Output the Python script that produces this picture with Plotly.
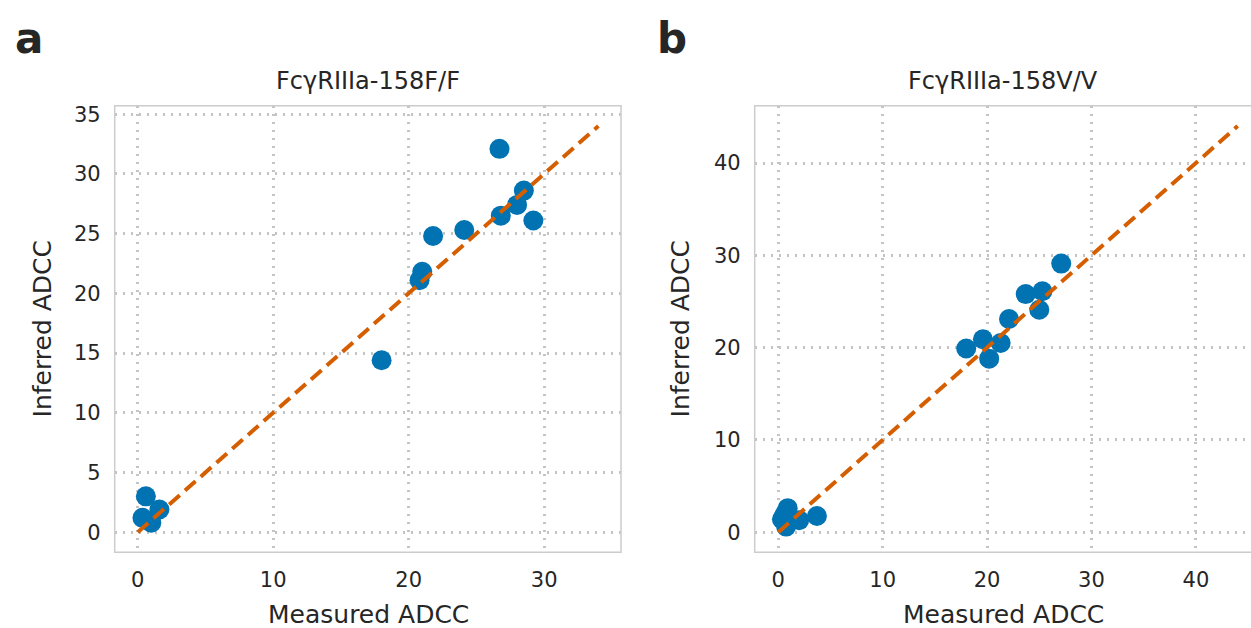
import plotly.graph_objects as go

# Panel a: FcγRIIIa-158F/F
a_measured = [26.7, 28.5, 28.0, 26.8, 29.2, 24.1, 21.8, 21.0, 20.8, 18.0, 0.6, 1.6, 0.35, 1.0]
a_inferred = [32.1, 28.6, 27.4, 26.5, 26.1, 25.3, 24.8, 21.8, 21.1, 14.4, 3.0, 1.9, 1.2, 0.8]
a_line = [0, 34]

# Panel b: FcγRIIIa-158V/V
b_measured = [27.1, 23.7, 25.3, 25.0, 22.1, 19.6, 21.3, 18.0, 20.2, 3.7, 0.9, 2.0, 0.35, 0.75, 0.6]
b_inferred = [29.1, 25.8, 26.1, 24.1, 23.1, 20.9, 20.5, 19.9, 18.8, 1.75, 2.6, 1.3, 1.4, 0.6, 1.9]
b_line = [0, 44]

a_ticks_x = [0, 10, 20, 30]
a_ticks_y = [0, 5, 10, 15, 20, 25, 30, 35]
b_ticks = [0, 10, 20, 30, 40]

BLUE = "#0173B2"
ORANGE = "#D55E00"
TXT = "#262626"
GRID = "#c4c4c4"
FONT = "DejaVu Sans"

W, H = 1251, 628

def px_x(p):
    return p / W

def px_y(p):
    return 1 - p / H

fig = go.Figure()

fig.add_trace(go.Scatter(x=a_measured, y=a_inferred, mode="markers",
                         marker=dict(color=BLUE, size=20, line=dict(width=0)),
                         xaxis="x", yaxis="y", showlegend=False))
fig.add_trace(go.Scatter(x=a_line, y=a_line, mode="lines",
                         line=dict(color=ORANGE, width=4, dash="14px,7px"),
                         xaxis="x", yaxis="y", showlegend=False))
fig.add_trace(go.Scatter(x=b_measured, y=b_inferred, mode="markers",
                         marker=dict(color=BLUE, size=20, line=dict(width=0)),
                         xaxis="x2", yaxis="y2", showlegend=False))
fig.add_trace(go.Scatter(x=b_line, y=b_line, mode="lines",
                         line=dict(color=ORANGE, width=4, dash="14px,7px"),
                         xaxis="x2", yaxis="y2", showlegend=False))

ydom = [px_y(552), px_y(103.3)]
common = dict(showline=False, zeroline=False, showgrid=True, gridcolor=GRID,
              griddash="2.5px,5.5px", gridwidth=2.5, ticks="", ticklabelstandoff=13,
              tickfont=dict(family=FONT, size=21, color=TXT))

fig.update_layout(
    width=W, height=H, margin=dict(l=0, r=0, t=0, b=0),
    paper_bgcolor="white", plot_bgcolor="white",
    font=dict(family=FONT, color=TXT),
    xaxis=dict(domain=[px_x(114.7), px_x(621)], range=[-1.7, 35.67],
               tickvals=a_ticks_x, anchor="y", **common),
    yaxis=dict(domain=ydom, range=[-1.69, 35.7], tickvals=a_ticks_y,
               anchor="x", **common),
    xaxis2=dict(domain=[px_x(754.7), 1.0], range=[-2.26, 45.28],
                tickvals=b_ticks, anchor="y2", **common),
    yaxis2=dict(domain=ydom, range=[-2.19, 46.2], tickvals=b_ticks,
                anchor="x2", **common),
)

# borders
fig.add_shape(type="rect", xref="x domain", yref="y domain", x0=0, x1=1, y0=0, y1=1,
              line=dict(color="#cccccc", width=1.5), layer="above")
fig.add_shape(type="rect", xref="x2 domain", yref="y2 domain", x0=0, x1=1.03, y0=0, y1=1,
              line=dict(color="#cccccc", width=1.5), layer="above")

def ann(text, x, y, size, bold=False, angle=0):
    fig.add_annotation(text=f"<b>{text}</b>" if bold else text,
                       x=px_x(x), y=px_y(y), xref="paper", yref="paper",
                       showarrow=False, textangle=angle,
                       font=dict(family=FONT, size=size, color=TXT),
                       xanchor="center", yanchor="middle")

ann("a", 29, 36, 42, bold=True)
ann("b", 672, 36, 42, bold=True)
ann("FcγRIIIa-158F/F", 368, 78, 24)
ann("FcγRIIIa-158V/V", 1003, 78, 24)
ann("Measured ADCC", 368, 614, 25)
ann("Measured ADCC", 1003, 614, 25)
ann("Inferred ADCC", 42, 328, 25, angle=-90)
ann("Inferred ADCC", 680, 328, 25, angle=-90)

fig.write_html("out.html")
